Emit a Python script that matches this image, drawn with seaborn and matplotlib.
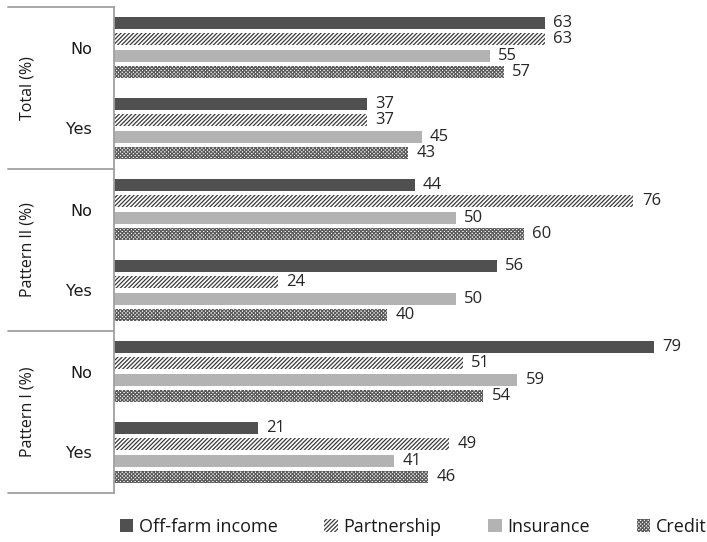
import matplotlib
matplotlib.use("Agg")
import matplotlib.pyplot as plt
from matplotlib.patches import Patch
from matplotlib.lines import Line2D
from matplotlib.transforms import blended_transform_factory
import seaborn as sns
import pandas as pd

# Categories, top to bottom
panels = ["Total (%)", "Pattern II (%)", "Pattern I (%)"]
answers = ["No", "Yes"]
series = ["Off-farm income", "Partnership", "Insurance", "Credit"]

# Shares (%) per series, rows ordered: Total No, Total Yes, PII No, PII Yes, PI No, PI Yes
off_farm = [63, 37, 44, 56, 79, 21]
partnership = [63, 37, 76, 24, 51, 49]
insurance = [55, 45, 50, 50, 59, 41]
credit = [57, 43, 60, 40, 54, 46]

values = {"Off-farm income": off_farm, "Partnership": partnership,
          "Insurance": insurance, "Credit": credit}

keys = [f"{p}|{a}" for p in panels for a in answers]
rows = []
for s in series:
    for k, v in zip(keys, values[s]):
        rows.append({"row": k, "series": s, "value": v})
df = pd.DataFrame(rows)

sns.set_theme(style="white")
plt.rcParams["font.family"] = ["Open Sans", "DejaVu Sans"]
plt.rcParams["hatch.linewidth"] = 0.9

fills = {"Off-farm income": "#505050", "Partnership": "white",
         "Insurance": "#b3b3b3", "Credit": "white"}
hatches = {"Off-farm income": "", "Partnership": "////////",
           "Insurance": "", "Credit": "xxxxxxxxx"}
hatch_cols = {"Off-farm income": "#505050", "Partnership": "#3a3a3a",
              "Insurance": "#b3b3b3", "Credit": "#5a5a5a"}

fig = plt.figure(figsize=(7.07, 5.42), dpi=100)
ax = fig.add_axes([114 / 707, 1 - 493 / 542, (695 - 114) / 707, (493 - 7) / 542])

sns.barplot(data=df, x="value", y="row", hue="series", order=keys,
            hue_order=series, palette=fills, orient="h", width=0.8, gap=0.25,
            linewidth=0, legend=False, ax=ax)

for s, cont in zip(series, ax.containers):
    for bar in cont:
        bar.set_hatch(hatches[s])
        bar.set_edgecolor(hatch_cols[s])
        bar.set_linewidth(0)
    ax.bar_label(cont, labels=[str(v) for v in values[s]], padding=6,
                 fontsize=12, color="#262626")

ax.set_xlim(0, 85)
ax.set_ylim(5.5, -0.5)
ax.set_xlabel("")
ax.set_ylabel("")
ax.set_xticks([])
ax.set_yticks(range(len(keys)))
ax.set_yticklabels([k.split("|")[1] for k in keys], fontsize=11.5,
                   family=["DejaVu Sans"], color="#1a1a1a")
ax.tick_params(axis="y", length=0, pad=16)
for side in ["top", "right", "bottom"]:
    ax.spines[side].set_visible(False)
ax.spines["left"].set_color("#a0a0a0")
ax.spines["left"].set_linewidth(1.3)

# Panel separators and panel titles left of the axis
tr = blended_transform_factory(fig.transFigure, ax.transData)
for yb in [-0.5, 1.5, 3.5, 5.5]:
    fig.add_artist(Line2D([8 / 707, 114 / 707], [yb, yb], transform=tr,
                          color="#a0a0a0", linewidth=1.3, clip_on=False))
for i, p in enumerate(panels):
    fig.text(28 / 707, 2 * i + 0.5, p, transform=tr, rotation=90,
             ha="center", va="center", fontsize=11.5, color="#1a1a1a")

handles = [Patch(facecolor=fills[s], edgecolor=hatch_cols[s], hatch=hatches[s],
                 linewidth=0, label=s) for s in series]
fig.legend(handles=handles, loc="center", bbox_to_anchor=(413 / 707, 1 - 527 / 542),
           ncol=4, frameon=False, fontsize=13, handlelength=0.75, handleheight=0.75,
           handletextpad=0.3, columnspacing=2.6, labelcolor="#1a1a1a")

fig.savefig("out.png", dpi=100)
